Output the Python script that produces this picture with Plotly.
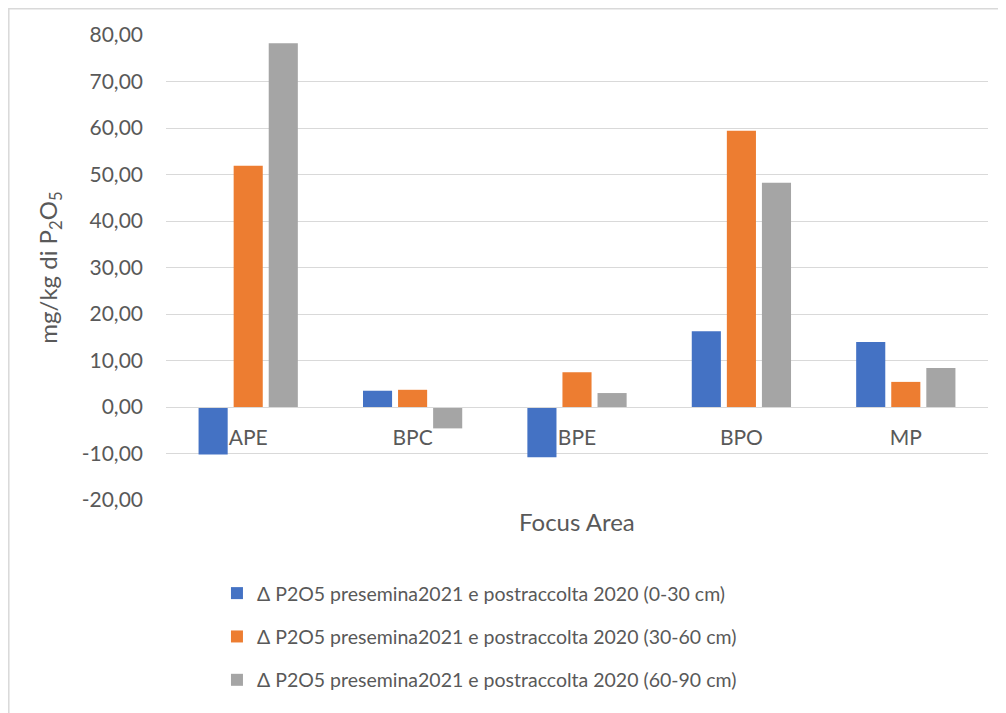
import plotly.graph_objects as go

categories = ["APE", "BPC", "BPE", "BPO", "MP"]
series_names = [
    "Δ P2O5 presemina2021 e postraccolta 2020 (0-30 cm)",
    "Δ P2O5 presemina2021 e postraccolta 2020 (30-60 cm)",
    "Δ P2O5 presemina2021 e postraccolta 2020 (60-90 cm)",
]
values_0_30 = [-10.2, 3.5, -10.8, 16.3, 14.0]
values_30_60 = [51.9, 3.7, 7.5, 59.4, 5.4]
values_60_90 = [78.2, -4.6, 3.0, 48.2, 8.4]
y_tick_values = [-20, -10, 0, 10, 20, 30, 40, 50, 60, 70, 80]
y_tick_labels = ["-20,00", "-10,00", "0,00", "10,00", "20,00", "30,00",
                 "40,00", "50,00", "60,00", "70,00", "80,00"]
colors = ["#4472C4", "#ED7D31", "#A5A5A5"]

font_family = "Lato, 'Open Sans', sans-serif"
text_color = "#595959"
grid_color = "#D9D9D9"

fig = go.Figure()
for i, (name, vals) in enumerate(zip(series_names, [values_0_30, values_30_60, values_60_90])):
    fig.add_trace(go.Bar(
        x=categories, y=vals, name=name,
        marker=dict(color=colors[i], line=dict(width=0)),
        legendgroup=f"g{i}",
    ))

y_min, y_max = -20, 80
zero_pos = (0 - y_min) / (y_max - y_min)

fig.update_layout(
    width=1006, height=713,
    margin=dict(l=158, r=26, t=27, b=221),
    paper_bgcolor="white", plot_bgcolor="white",
    separators=",.",
    barmode="group", bargap=0.36, bargroupgap=0.17,
    font=dict(family=font_family, color=text_color, size=19),
    xaxis=dict(
        type="category", anchor="free", position=zero_pos,
        showline=True, linecolor=grid_color, linewidth=1,
        ticks="", showgrid=False, ticklabelstandoff=12,
        tickfont=dict(size=21, color=text_color),
        zeroline=False,
    ),
    yaxis=dict(
        range=[y_min, y_max], tickmode="array",
        tickvals=y_tick_values, ticktext=y_tick_labels,
        showgrid=True, gridcolor=grid_color, gridwidth=1,
        zeroline=False, showline=False, ticks="",
        ticklabelstandoff=22,
        tickfont=dict(size=21, color=text_color),
        title=dict(text="mg/kg di P<sub>2</sub>O<sub>5</sub>", font=dict(size=24, color=text_color), standoff=17),
    ),
    showlegend=True,
    legend=dict(
        orientation="v", x=0.062, xanchor="left", y=-0.159, yanchor="top",
        font=dict(size=19.5, color=text_color),
        tracegroupgap=15, bgcolor="rgba(0,0,0,0)",
    ),
    annotations=[dict(
        text="Focus Area", xref="paper", yref="paper", x=0.5, y=-0.047,
        xanchor="center", yanchor="middle", showarrow=False,
        font=dict(size=24, color=text_color),
    )],
    shapes=[dict(
        type="rect", xref="paper", yref="paper",
        x0=(0.8 - 158) / 822, x1=(1012 - 158) / 822,
        y0=(492 - 720) / 465, y1=(492 - 0.8) / 465,
        line=dict(color=grid_color, width=1.5), fillcolor="rgba(0,0,0,0)", layer="below",
    )],
)

fig.write_html("out.html")
